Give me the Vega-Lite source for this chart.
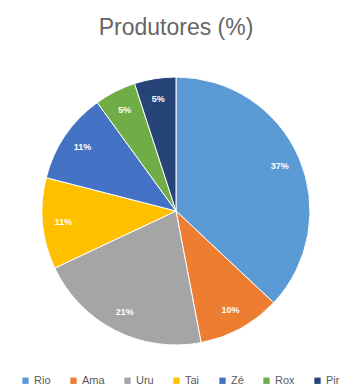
{
  "$schema": "https://vega.github.io/schema/vega-lite/v6.json",
  "width": 342,
  "height": 362,
  "autosize": "none",
  "padding": {"left": 5, "top": 30, "right": 0, "bottom": 0},
  "background": "white",
  "title": {
    "text": "Produtores (%)",
    "fontSize": 23,
    "fontWeight": "normal",
    "font": "Liberation Sans",
    "color": "#666666",
    "offset": -10
  },
  "data": {
    "values": [
      {"nome": "Rio", "pct": 37, "rotulo": "37%", "ordem": 1},
      {"nome": "Ama", "pct": 10, "rotulo": "10%", "ordem": 2},
      {"nome": "Uru", "pct": 21, "rotulo": "21%", "ordem": 3},
      {"nome": "Tai", "pct": 11, "rotulo": "11%", "ordem": 4},
      {"nome": "Zé", "pct": 11, "rotulo": "11%", "ordem": 5},
      {"nome": "Rox", "pct": 5, "rotulo": "5%", "ordem": 6},
      {"nome": "Pir", "pct": 5, "rotulo": "5%", "ordem": 7}
    ]
  },
  "encoding": {
    "theta": {"field": "pct", "type": "quantitative", "stack": true},
    "order": {"field": "ordem", "type": "quantitative"},
    "color": {
      "field": "nome",
      "type": "nominal",
      "sort": ["Rio", "Ama", "Uru", "Tai", "Zé", "Rox", "Pir"],
      "scale": {
        "domain": ["Rio", "Ama", "Uru", "Tai", "Zé", "Rox", "Pir"],
        "range": ["#5B9BD5", "#ED7D31", "#A5A5A5", "#FFC000", "#4472C4", "#70AD47", "#264478"]
      },
      "legend": {
        "orient": "none",
        "legendX": 15,
        "legendY": 345,
        "direction": "horizontal",
        "title": null,
        "symbolType": "square",
        "symbolSize": 40,
        "symbolStrokeWidth": 0,
        "labelFontSize": 11,
        "labelColor": "#595959",
        "labelFont": "Liberation Sans",
        "columnPadding": 17,
        "labelOffset": 3
      }
    }
  },
  "layer": [
    {
      "mark": {"type": "arc", "outerRadius": 134, "stroke": "white", "strokeWidth": 1}
    },
    {
      "mark": {"type": "text", "radius": 113, "color": "white", "fontWeight": "bold", "fontSize": 9, "font": "Liberation Sans"},
      "encoding": {
        "text": {"field": "rotulo", "type": "nominal"},
        "color": {"value": "white"}
      }
    }
  ]
}
